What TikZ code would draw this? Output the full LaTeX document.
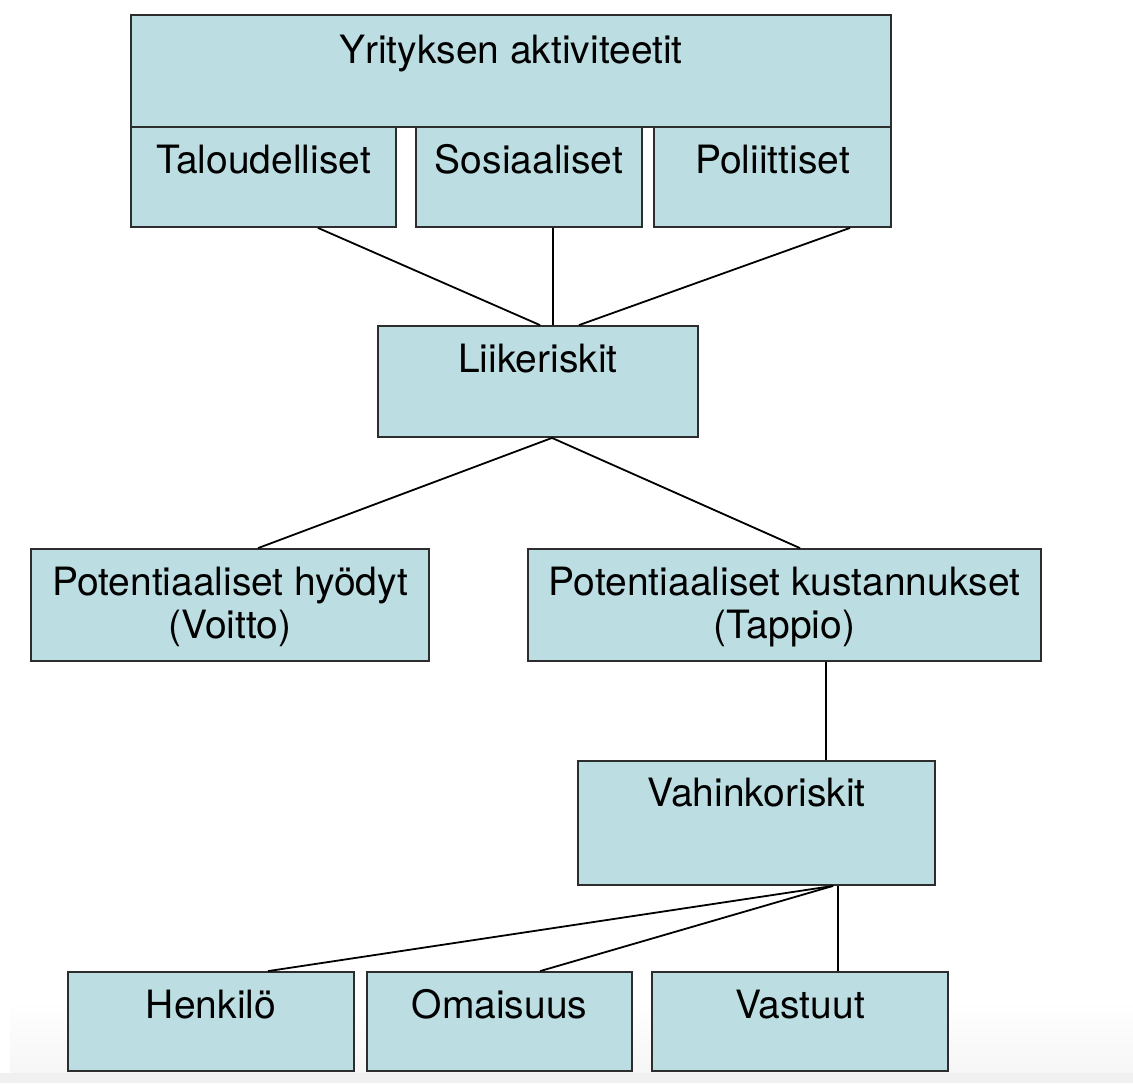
\documentclass[tikz,border=0pt]{standalone}
\usepackage{fontspec}
\setmainfont{TeX Gyre Heros}
\definecolor{boxblue}{RGB}{188, 222, 226}
\definecolor{boxline}{RGB}{45, 45, 45}
\usetikzlibrary{
  calc,
  positioning,
}
\tikzset{
  box/.style={draw=boxline,line width=0.9pt,rectangle,fill=boxblue,inner sep=0pt,
    font=\fontsize{19.5}{21.5}\selectfont,text height=23pt},
  link/.style={draw=black,line width=0.9pt},
}

\begin{document}
\begin{tikzpicture}[x=0.5pt,y=-0.5pt]
      \useasboundingbox (0,0) rectangle (1133,1083);
      \shade[top color=white,bottom color=gray!7] (10,1000) rectangle (1133,1073);
      \fill[gray!12] (0,1073) rectangle (1133,1083);

      % activities
      \node[box,minimum width=380pt,minimum height=56pt,text height=24pt,text depth=32pt]   (akt) at (511,71)    {Yrityksen aktiviteetit};
      \node[box,minimum width=132.5pt,minimum height=50pt,text depth=27pt]  (tal) at (263.5,177)  {Taloudelliset};
      \node[box,minimum width=113pt,minimum height=50pt,text depth=27pt]    (sos) at (529,177)    {Sosiaaliset};
      \node[box,minimum width=118.5pt,minimum height=50pt,text depth=27pt]  (pol) at (772.5,177)  {Poliittiset};

      \node[box,minimum width=160pt,minimum height=55.5pt,text depth=32.5pt]  (lii) at (538,381.5)  {Liikeriskit};

      \node[box,minimum width=199pt,minimum height=56pt,text depth=33pt]    (hyo) at (230,605)
        {\begin{tabular}[t]{@{}c@{}}Potentiaaliset hyödyt\\(Voitto)\end{tabular}};
      \node[box,minimum width=256.5pt,minimum height=56pt,text depth=33pt]  (kus) at (784.5,605)
        {\begin{tabular}[t]{@{}c@{}}Potentiaaliset kustannukset\\(Tappio)\end{tabular}};

      \node[box,minimum width=178.5pt,minimum height=62pt,text height=22.5pt,text depth=39.5pt]  (vah) at (756.5,823)  {Vahinkoriskit};

      \node[box,minimum width=143pt,minimum height=49.5pt,text depth=26.5pt]   (hen) at (211,1021.5)   {Henkilö};
      \node[box,minimum width=132.5pt,minimum height=49.5pt,text depth=26.5pt] (oma) at (499.5,1021.5) {Omaisuus};
      \node[box,minimum width=148pt,minimum height=49.5pt,text depth=26.5pt]   (vas) at (800,1021.5)   {Vastuut};

      % connectors
      \draw[link] ([xshift=27.25pt]tal.south) -- ([xshift=1pt]lii.north);
      \draw[link] ([xshift=12pt]sos.south) -- ([xshift=7.5pt]lii.north);
      \draw[link] ([xshift=38.75pt]pol.south) -- ([xshift=20.5pt]lii.north);
      \draw[link] ([xshift=7pt]lii.south) -- ([xshift=14pt]hyo.north);
      \draw[link] ([xshift=7pt]lii.south) -- ([xshift=7.75pt]kus.north);
      \draw[link] ([xshift=20.75pt]kus.south) -- ([xshift=34.75pt]vah.north);
      \draw[link] ([xshift=38.25pt]vah.south) -- ([xshift=28.5pt]hen.north);
      \draw[link] ([xshift=38.25pt]vah.south) -- ([xshift=20.25pt]oma.north);
      \draw[link] ([xshift=40.75pt]vah.south) -- ([xshift=19pt]vas.north);
    \end{tikzpicture}
\end{document}
